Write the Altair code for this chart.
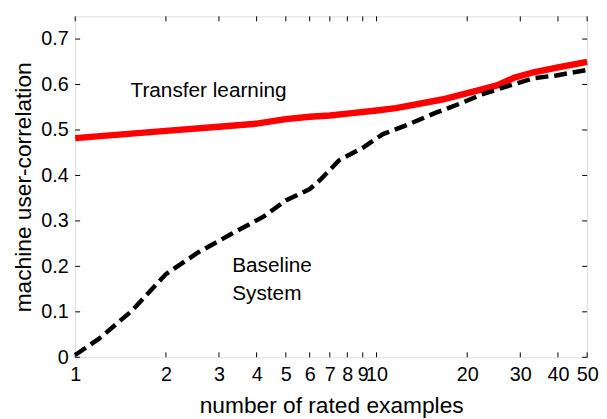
import altair as alt
import pandas as pd

# Transfer learning (red solid)
tl_x = [1, 2, 3, 4, 5, 6, 7, 8, 10, 11.6, 16.5, 21.1, 25.1, 28.6, 33.2, 40.8, 50]
tl_y = [0.482, 0.498, 0.507, 0.514, 0.524, 0.529, 0.532, 0.536, 0.543, 0.548, 0.567, 0.585, 0.598, 0.615, 0.627, 0.639, 0.650]

# Baseline system (black dashed)
bs_x = [1, 1.2, 1.54, 2, 2.55, 3.27, 4.23, 5, 6, 6.5, 7.5, 9, 10.5, 12.4, 15.6, 19.1, 22.3, 27.1, 33.2, 39.5, 50]
bs_y = [0.005, 0.041, 0.102, 0.183, 0.23, 0.27, 0.31, 0.345, 0.37, 0.39, 0.433, 0.461, 0.491, 0.509, 0.537, 0.559, 0.578, 0.596, 0.614, 0.620, 0.632]

x_ticks = [1, 2, 3, 4, 5, 6, 7, 8, 9, 10, 20, 30, 40, 50]
y_ticks = [0, 0.1, 0.2, 0.3, 0.4, 0.5, 0.6, 0.7]

labels_text = ["Transfer learning", "Baseline", "System"]
labels_x = [1.526, 3.32, 3.32]
labels_y = [0.572, 0.187, 0.126]

W, H = 518, 345
FONT = "Liberation Sans"

tl = pd.DataFrame({"x": tl_x, "y": tl_y})
bs = pd.DataFrame({"x": bs_x, "y": bs_y})
xt = pd.DataFrame({"x": x_ticks})
yt = pd.DataFrame({"y": y_ticks})
lab = pd.DataFrame({"x": labels_x, "y": labels_y, "t": labels_text})

xscale = alt.Scale(type="log", domain=[1, 50], nice=False)
yscale = alt.Scale(domain=[0, 0.75], nice=False)

xaxis = alt.Axis(values=x_ticks, format="d", title="number of rated examples",
                 ticks=False, tickSize=0, domain=False, grid=False,
                 labelFlush=False, labelOverlap=False, labelPadding=7,
                 labelFontSize=20, titleFontSize=23, titlePadding=11,
                 labelFont=FONT, titleFont=FONT, labelColor="black",
                 titleColor="black", titleFontWeight="normal")
yaxis = alt.Axis(values=y_ticks, format="~g", title="machine user-correlation",
                 ticks=False, tickSize=0, domain=False, grid=False,
                 labelPadding=7, labelFontSize=20, titleFontSize=23,
                 titlePadding=5, labelFont=FONT, titleFont=FONT,
                 labelColor="black", titleColor="black",
                 titleFontWeight="normal")

base_red = alt.Chart(tl).mark_line(color="#ff0000", strokeWidth=6.5).encode(
    x=alt.X("x:Q", scale=xscale, axis=xaxis),
    y=alt.Y("y:Q", scale=yscale, axis=yaxis),
)

black = alt.Chart(bs).mark_line(color="black", strokeWidth=4.5, strokeDash=[13, 6]).encode(
    x=alt.X("x:Q", scale=xscale),
    y=alt.Y("y:Q", scale=yscale),
)

txt = alt.Chart(lab).mark_text(align="left", baseline="alphabetic", fontSize=21,
                               font=FONT, color="black").encode(
    x=alt.X("x:Q", scale=xscale),
    y=alt.Y("y:Q", scale=yscale),
    text="t:N",
)

tk = 5
xt_bot = alt.Chart(xt).mark_rule(color="black", strokeWidth=1).encode(
    x=alt.X("x:Q", scale=xscale), y=alt.value(H), y2=alt.value(H - tk))
xt_top = alt.Chart(xt).mark_rule(color="black", strokeWidth=1).encode(
    x=alt.X("x:Q", scale=xscale), y=alt.value(0), y2=alt.value(tk))
yt_left = alt.Chart(yt).mark_rule(color="black", strokeWidth=1).encode(
    y=alt.Y("y:Q", scale=yscale), x=alt.value(0), x2=alt.value(tk))
yt_right = alt.Chart(yt).mark_rule(color="black", strokeWidth=1).encode(
    y=alt.Y("y:Q", scale=yscale), x=alt.value(W), x2=alt.value(W - tk))

chart = alt.layer(base_red, black, txt, xt_bot, xt_top, yt_left, yt_right).properties(
    width=W, height=H,
    autosize=alt.AutoSizeParams(type="none"),
    padding={"left": 68, "top": 6, "right": 12, "bottom": 60},
).configure_view(stroke="black", strokeWidth=1.2).configure(background="white")

chart.save("out.html", embed_options={"renderer": "svg", "actions": False})
